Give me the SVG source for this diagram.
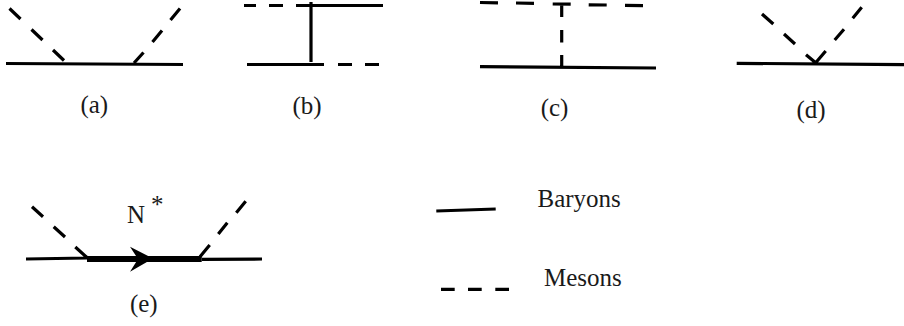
<svg xmlns="http://www.w3.org/2000/svg" width="904" height="326" viewBox="0 0 904 326">
<style>
text{font-family:"Liberation Serif","Times New Roman",serif;font-size:25px;fill:#1a1a1a}
.s{stroke:#000;stroke-width:3.2;fill:none}
.t{stroke:#000;stroke-width:6;fill:none}
</style>
<rect width="904" height="326" fill="#fff"/>
<g id="connectors">
<g id="conn-a">
<path class="s" d="M6 63.5L183 64.5"/>
<path class="s" d="M9.5 8.5L20.5 19M31.5 29.5L42.5 40M53 50L64 60.5M180 8.5L170.5 20M162 30.5L152.5 42M143.5 52.5L134 63"/>
</g>
<g id="conn-b">
<path class="s" d="M244 5.5H256M269 5.5H283M296 5.5H383M311 2V62M247 64.5H324M338 64.5H352M365 64.5H379"/>
</g>
<g id="conn-c">
<path class="s" d="M480 2.5L498 2.8M516 3L534 3.3M552.7 4L570.7 4.2M588.7 4.8L606.7 5M625 5.3L643 5.6M561.7 4V17M561.7 30V42.5M561.7 55V66M480 66.7L656 68"/>
</g>
<g id="conn-d">
<path class="s" d="M736.7 63.3L904 64.7M762 14L773.3 24M784 34L795 44M806 54.7L815.7 62.7M861.7 7.3L852.7 18.3M844 29.3L834.7 40M825.7 51L815.7 62.7"/>
</g>
<g id="conn-e">
<path class="s" d="M26 259L87 258M201.7 259.3L262 259M32 206.7L43 216.7M53.7 226.7L65 237M75.3 247L86.7 257.3M245.7 201.3L236.3 212.7M227.3 222.7L218.3 234M209.7 245L200 256.7"/>
<path class="t" d="M87 259H201.7"/>
<path d="M130 246.7L153 258.5L130 271.7L138 259Z" fill="#000"/>
</g>
<g id="conn-legend">
<path class="s" d="M436.3 211L495.7 209M441 289.3H454.7M468 289.3H481.7M495.3 289.3H509"/>
</g>
</g>
<g id="label-a"><text x="94.3" y="113" text-anchor="middle">(a)</text></g>
<g id="label-b"><text x="307" y="114" text-anchor="middle">(b)</text></g>
<g id="label-c"><text x="554.5" y="116" text-anchor="middle">(c)</text></g>
<g id="label-d"><text x="811" y="118" text-anchor="middle">(d)</text></g>
<g id="label-e"><text x="143.8" y="312" text-anchor="middle">(e)</text></g>
<g id="label-nstar"><text x="127" y="222.5">N</text><text x="151" y="213">*</text></g>
<g id="legend-baryons"><text x="537.5" y="206.7">Baryons</text></g>
<g id="legend-mesons"><text x="544" y="286">Mesons</text></g>
</svg>
